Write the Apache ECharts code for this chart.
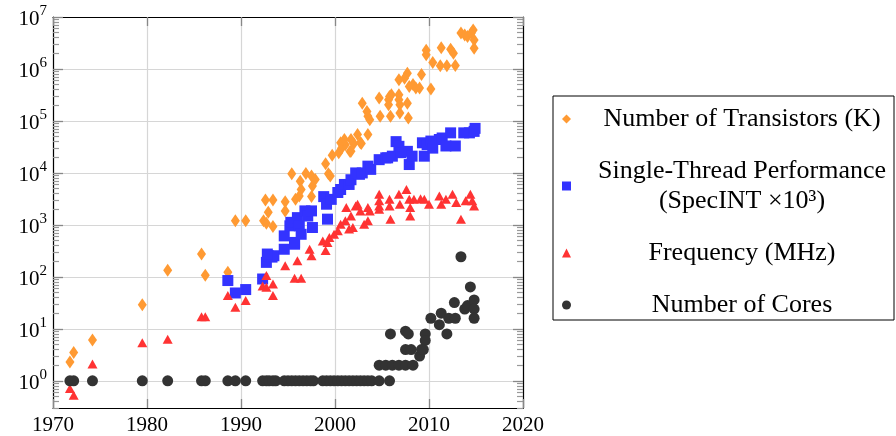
<!DOCTYPE html>
<html>
<head>
<meta charset="utf-8">
<script src="https://cdn.jsdelivr.net/npm/echarts@6/dist/echarts.min.js"></script>
<style>html,body{margin:0;padding:0;background:#fff}#c{width:896px;height:436px}</style>
</head>
<body>
<div id="c"></div>
<script>
// ---- data ----
const xTickLabels = [1970, 1980, 1990, 2000, 2010, 2020];
const yTickExponents = [0, 1, 2, 3, 4, 5, 6, 7];

const transistorYears = [1971.8,1972.2,1974.2,1979.5,1982.2,1985.8,1986.2,1988.6,1989.4,1990.5,1992.4,1992.7,1992.9,1993.4,1992.6,1993.4,1994.7,1994.7,1995.4,1995.8,1996.3,1996.4,1996.2,1996.9,1997.5,1997.6,1997.5,1997.9,1999.0,1999.3,1999.5,1999.7,2000.4,2000.7,2001.1,2001.6,2002.0,2001.7,2002.7,2000.6,2001.0,2001.7,2002.4,2002.8,2003.5,2002.9,2003.4,2003.5,2003.7,2004.7,2004.8,2005.7,2005.7,2006.0,2005.9,2006.8,2006.8,2006.9,2006.9,2006.8,2007.7,2007.8,2007.4,2008.3,2008.6,2009.0,2009.2,2010.2,2009.7,2009.7,2010.4,2011.2,2011.3,2011.9,2012.3,2012.6,2012.8,2013.4,2013.8,2014.1,2014.5,2014.7,2014.8,2014.8,2007.7,2007.9,2005.8];
const transistorValues = [2.3,3.5,6.1,29,134,275,107,123,1200,1200,1200,1070,1750,930,3000,3000,2800,1860,9600,3100,6900,4800,3600,9800,8700,5600,3500,7500,15000,9600,8700,22000,24500,30000,35000,25700,37000,44000,38000,38000,44000,26000,55000,37000,55000,220000,152000,123000,105000,275000,123000,257000,205000,318000,123000,318000,257000,205000,142000,620000,830000,114000,660000,500000,430000,430000,780000,410000,2300000,1870000,1330000,1150000,2560000,1150000,2400000,2000000,1170000,4900000,4500000,4200000,4900000,5600000,3600000,2500000,219000,460000,295000];

const perfYears = [1988.6,1989.4,1990.5,1992.3,1992.7,1992.9,1993.3,1993.5,1992.8,1994.6,1994.6,1995.2,1995.3,1995.7,1995.7,1996.0,1996.2,1996.4,1996.8,1997.1,1997.5,1997.6,1998.8,1999.1,1999.2,1999.6,2000.3,2000.6,2001.0,2001.5,2001.7,2002.2,2002.6,2002.9,2003.5,2003.8,2004.7,2005.4,2005.6,2006.1,2006.5,2006.8,2007.0,2007.7,2007.9,2008.2,2009.3,2009.5,2009.8,2010.2,2010.4,2011.1,2011.4,2011.8,2012.3,2012.8,2013.7,2014.3,2014.8,2014.9];
const perfValues = [85,49,57,91,190,255,240,255,275,615,340,960,1120,460,425,1380,960,660,1860,1480,1860,890,3500,2500,1290,3100,4200,4800,6000,6000,7400,10000,9400,10000,13500,11700,18000,19500,19500,21000,40000,32500,24500,26000,14500,21000,38000,21000,35000,41000,30000,44000,47000,33000,59000,33000,59000,59000,63000,72000];

const freqYears = [1971.8,1972.2,1974.2,1979.5,1982.2,1985.8,1986.2,1988.6,1989.4,1990.5,1992.3,1992.7,1993.4,1993.4,1992.7,1994.7,1995.7,1996.0,1996.4,1997.5,1997.3,1998.7,1999.2,1999.0,1999.4,1999.9,2000.3,2000.6,2001.1,2001.2,2001.5,2001.7,2001.9,2002.2,2002.4,2002.7,2003.1,2003.5,2003.5,2003.7,2004.7,2005.9,2004.7,2004.7,2004.7,2005.8,2005.8,2006.8,2006.9,2007.6,2007.9,2008.0,2008.0,2008.4,2009.1,2009.5,2010.0,2011.1,2011.3,2011.8,2012.5,2012.9,2013.4,2013.9,2014.4,2014.6,2014.8];
const freqValues = [0.71,0.53,2.1,5.4,6.3,17,17,44,26,35,67,63,73,44,106,163,94,205,94,255,340,490,460,320,575,660,770,1030,1200,2150,830,1490,890,2300,2500,1860,1030,1200,2150,1860,2300,1290,3900,2900,2000,3100,2300,3900,2500,4800,3100,2150,1490,3100,3200,3100,2500,3600,2500,3100,3900,2700,1290,2900,3900,2900,2300];

const coreYears = [1971.8,1972.2,1974.2,1979.5,1982.2,1985.8,1986.2,1988.6,1989.4,1990.5,1992.3,1992.7,1993.0,1993.4,1993.7,1994.6,1995.0,1995.4,1995.8,1996.2,1996.6,1997.0,1997.4,1997.7,1998.7,1999.1,1999.5,1999.9,2000.3,2000.7,2001.1,2001.5,2001.9,2002.3,2002.7,2003.1,2003.5,2003.9,2004.7,2005.8,2004.7,2005.4,2006.1,2006.8,2007.5,2008.3,2005.9,2007.5,2007.8,2007.5,2008.1,2009.0,2009.2,2009.6,2009.6,2009.4,2010.2,2011.1,2011.3,2011.9,2012.1,2012.8,2012.7,2013.4,2013.8,2014.1,2014.4,2014.8,2014.8,2014.8];
const coreValues = [1,1,1,1,1,1,1,1,1,1,1,1,1,1,1,1,1,1,1,1,1,1,1,1,1,1,1,1,1,1,1,1,1,1,1,1,1,1,1,1,2,2,2,2,2,2,8,9,8,4,4,3,4,8,6,4,16,12,20,8,16,16,32,244,24,28,64,36,24,16];

const seriesNames = ['Number of Transistors (K)', 'Single-Thread Performance (SpecINT ×10³)', 'Frequency (MHz)', 'Number of Cores'];
const legendLines = [['Number of Transistors (K)'], ['Single-Thread Performance', '(SpecINT ×10³)'], ['Frequency (MHz)'], ['Number of Cores']];

// ---- chart ----
const FONT = 'Liberation Serif';
const zip = (xs, ys) => xs.map((x, i) => [x, ys[i]]);
const majorVals = yTickExponents.map(e => Math.pow(10, e));
const minorVals = [];
for (let e = -1; e < 7; e++) for (let m = 2; m <= 9; m++) {
  const v = m * Math.pow(10, e);
  if (v > 0.3 && v < 1e7) minorVals.push(v);
}
const yMin = 0.3, yMax = 1e7;

function yAxisMajor(pos, labels) {
  return {
    type: 'log', logBase: 10, min: yMin, max: yMax, position: pos,
    axisLine: { show: true, lineStyle: { color: '#000', width: 1.2 } },
    axisTick: { show: true, inside: true, length: 10, customValues: majorVals, lineStyle: { color: '#888', width: 1.3 } },
    axisLabel: labels ? {
      show: true, customValues: majorVals, margin: 6,
      formatter: v => '{b|10}{s|' + Math.round(Math.log10(v)) + '}',
      rich: {
        b: { fontFamily: FONT, fontSize: 21, color: '#000', padding: [5, 0, 0, 0], verticalAlign: 'bottom' },
        s: { fontFamily: FONT, fontSize: 15, color: '#000', verticalAlign: 'top', lineHeight: 15 }
      }
    } : { show: false },
    splitLine: { show: labels, lineStyle: { color: '#d6d6d6', width: 1.2 } }
  };
}
function yAxisMinor(pos) {
  return {
    type: 'log', logBase: 10, min: yMin, max: yMax, position: pos,
    axisLine: { show: false },
    axisTick: { show: true, inside: true, length: 6, customValues: minorVals, lineStyle: { color: '#999', width: 1.2 } },
    axisLabel: { show: false },
    splitLine: { show: false }
  };
}

const option = {
  animation: false,
  backgroundColor: '#fff',
  grid: { left: 53, right: 373, top: 17, bottom: 27, containLabel: false },
  xAxis: [
    {
      type: 'value', min: 1970, max: 2020, interval: 10, position: 'bottom',
      axisLine: { show: true, lineStyle: { color: '#000', width: 1.2 } },
      axisTick: { show: true, inside: true, length: 9, lineStyle: { color: '#888', width: 1.3 } },
      axisLabel: { show: true, margin: 7, fontFamily: FONT, fontSize: 21, color: '#000',
        customValues: xTickLabels, formatter: v => String(v) },
      splitLine: { show: true, lineStyle: { color: '#d6d6d6', width: 1.2 } }
    },
    {
      type: 'value', min: 1970, max: 2020, interval: 10, position: 'top',
      axisLine: { show: true, lineStyle: { color: '#000', width: 1.2 } },
      axisTick: { show: true, inside: true, length: 9, lineStyle: { color: '#888', width: 1.3 } },
      axisLabel: { show: false },
      splitLine: { show: false }
    }
  ],
  yAxis: [yAxisMajor('left', true), yAxisMinor('left'), yAxisMajor('right', false), yAxisMinor('right')],
  legend: {
    orient: 'vertical', left: 553, top: 96,
    padding: [10, 6, 2, 9], itemGap: 26, itemWidth: 9, itemHeight: 9,
    borderColor: '#000', borderWidth: 1, backgroundColor: '#fff',
    data: seriesNames,
    formatter: name => legendLines[seriesNames.indexOf(name)].map(l => '{t|' + l + '}').join('\n'),
    textStyle: {
      rich: { t: { fontFamily: FONT, fontSize: 26, lineHeight: 30, width: 292, align: 'center', padding: [0, 0, 0, 20], color: '#000' } }
    }
  },
  series: [
    { name: seriesNames[0], type: 'scatter', symbol: 'diamond', symbolSize: [9, 13], itemStyle: { color: '#ff9a33', opacity: 1 }, data: zip(transistorYears, transistorValues), z: 2 },
    { name: seriesNames[1], type: 'scatter', symbol: 'rect', symbolSize: 11, itemStyle: { color: '#3333ff', opacity: 1 }, data: zip(perfYears, perfValues), z: 3 },
    { name: seriesNames[2], type: 'scatter', symbol: 'triangle', symbolSize: [10, 9], itemStyle: { color: '#ff3333', opacity: 1 }, data: zip(freqYears, freqValues), z: 4 },
    { name: seriesNames[3], type: 'scatter', symbol: 'circle', symbolSize: 11, itemStyle: { color: '#333333', opacity: 1 }, data: zip(coreYears, coreValues), z: 5 }
  ]
};
const chart = echarts.init(document.getElementById('c'), null, { renderer: 'canvas' });
chart.setOption(option);
</script>
</body>
</html>
